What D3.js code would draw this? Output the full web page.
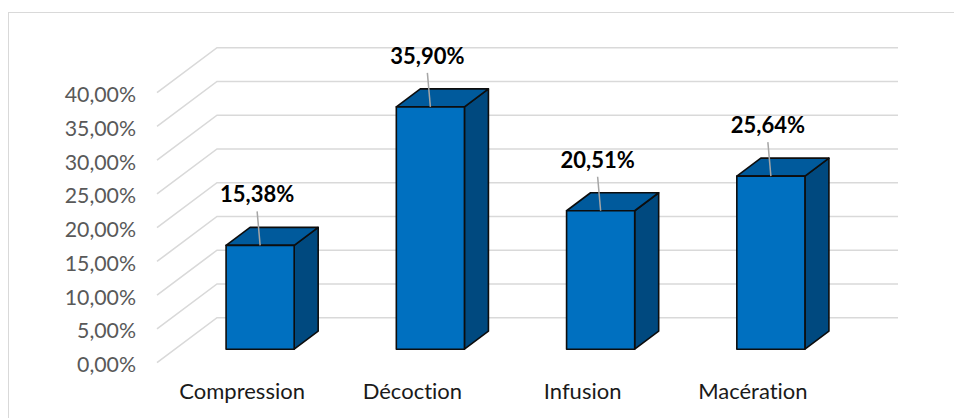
<!DOCTYPE html>
<html>
<head>
<meta charset="utf-8">
<script src="https://cdn.jsdelivr.net/npm/d3@7"></script>
<style>
  html, body { margin: 0; padding: 0; background: #fff; }
  svg { display: block; font-family: Lato, "Open Sans", sans-serif; font-variant-ligatures: none; font-feature-settings: "liga" 0, "clig" 0; }
</style>
</head>
<body>
<svg id="chart" width="954" height="418"></svg>
<script>
// Preparation methods and their share (%)
const categories = ["Compression", "Décoction", "Infusion", "Macération"];
const values = [15.38, 35.90, 20.51, 25.64];
const yTicks = [0, 5, 10, 15, 20, 25, 30, 35, 40];

const W = 954, H = 418;
const svg = d3.select("#chart");

// French number formatting: comma as decimal separator
const fr = d3.formatLocale({ decimal: ",", thousands: " ", grouping: [3], currency: ["", " €"] });
const fmt = v => fr.format(".2f")(v) + "%";

// 3D box geometry: front plane plus oblique depth offset
const DX = 60, DY = 45;
const front0 = 0.3, back0 = 0.7; // bar depth span within the floor

const x = d3.scaleBand().domain(categories).range([157, 838]).paddingInner(0.6).paddingOuter(0.3);
const y = d3.scaleLinear().domain([0, 40]).range([362.7, 92.7]);
const proj = (xf, v, d) => [xf + d * DX, y(v) - d * DY];

// chart frame
svg.append("rect").attr("x", 8.5).attr("y", 12.5).attr("width", 960).attr("height", 420)
  .attr("fill", "none").attr("stroke", "#d9d9d9").attr("stroke-width", 1);

// gridlines: left wall diagonal + back wall horizontal
const grid = svg.append("g").attr("stroke", "#d9d9d9").attr("stroke-width", 1.6).attr("fill", "none");
yTicks.forEach(t => {
  const a = proj(157, t, 0), b = proj(157, t, 1), c = proj(838, t, 1);
  grid.append("path").attr("d", `M${a[0]},${a[1]}L${b[0]},${b[1]}L${c[0]},${c[1]}`);
});

// value axis
const yAxis = svg.append("g").attr("transform", "translate(157,0)")
  .call(d3.axisLeft(y).tickValues(yTicks).tickSize(0).tickPadding(21).tickFormat(fmt));
yAxis.select(".domain").remove();
yAxis.selectAll("text").attr("font-family", "Lato, sans-serif").attr("font-size", 21.3)
  .attr("fill", "#595959").attr("dy", "0.42em");

// category axis
const xAxis = svg.append("g").attr("transform", `translate(0,${y(0)})`)
  .call(d3.axisBottom(x).tickSize(0).tickPadding(21));
xAxis.select(".domain").remove();
xAxis.selectAll("text").attr("font-family", "Lato, sans-serif").attr("font-size", 22).attr("fill", "#1a1a1a");

// bars drawn as 3D boxes
const poly = pts => "M" + pts.map(p => p.join(",")).join("L") + "Z";
const bars = svg.append("g").attr("stroke", "#0d0d0d").attr("stroke-width", 1.6).attr("stroke-linejoin", "round");
categories.forEach((c, i) => {
  const v = values[i];
  const x0 = x(c), x1 = x(c) + x.bandwidth();
  bars.append("path").attr("fill", "#00497F")
    .attr("d", poly([proj(x1, v, front0), proj(x1, v, back0), proj(x1, 0, back0), proj(x1, 0, front0)]));
  bars.append("path").attr("fill", "#005A9C")
    .attr("d", poly([proj(x0, v, front0), proj(x1, v, front0), proj(x1, v, back0), proj(x0, v, back0)]));
  bars.append("path").attr("fill", "#0070C0")
    .attr("d", poly([proj(x0, v, front0), proj(x1, v, front0), proj(x1, 0, front0), proj(x0, 0, front0)]));
});

// data labels with leader lines
const labels = svg.append("g");
categories.forEach((c, i) => {
  const v = values[i];
  const top = proj(x(c) + x.bandwidth() / 2, v, front0);
  const lx = top[0] - 3, ly = top[1] - 51;
  labels.append("line").attr("x1", lx).attr("y1", ly + 17).attr("x2", top[0]).attr("y2", top[1])
    .attr("stroke", "#a6a6a6").attr("stroke-width", 1.5);
  labels.append("text").attr("x", lx).attr("y", ly).attr("dy", "0.36em")
    .attr("text-anchor", "middle").attr("font-family", "Lato, sans-serif")
    .attr("font-weight", "bold").attr("font-size", 22).attr("fill", "#000")
    .text(fmt(v));
});
</script>
</body>
</html>
